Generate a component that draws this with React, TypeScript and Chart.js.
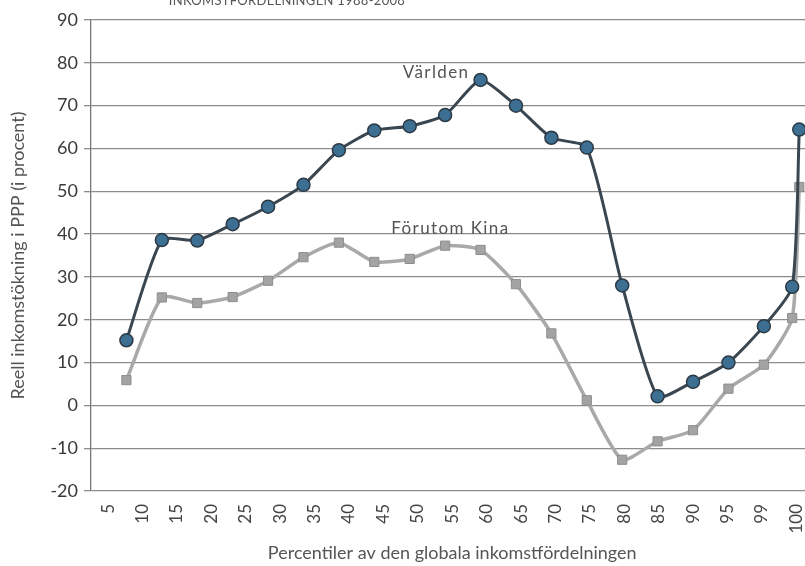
import React, { useEffect, useRef } from "react";
import { Chart, registerables } from "chart.js";

Chart.register(...registerables);

// Percentile positions of the plotted points
const percentiles = [5, 10, 15, 20, 25, 30, 35, 40, 45, 50, 55, 60, 65, 70, 75, 80, 85, 90, 95, 99, 100];

// Category tick labels on the x axis
const tickLabels = ["5", "10", "15", "20", "25", "30", "35", "40", "45", "50", "55", "60", "65", "70", "75", "80", "85", "90", "95", "99", "100"];

// Real income growth (%) 1988-2008
const worldValues = [15.2, 38.6, 38.5, 42.3, 46.4, 51.5, 59.6, 64.2, 65.2, 67.8, 76, 70, 62.5, 60.2, 28, 2.1, 5.5, 10, 18.5, 27.7, 64.4];
const exChinaValues = [5.9, 25.2, 23.9, 25.3, 29.1, 34.6, 38, 33.5, 34.2, 37.3, 36.3, 28.3, 16.8, 1.2, -12.7, -8.4, -5.8, 3.9, 9.5, 20.4, 51];

const seriesNames = ["Världen", "Förutom Kina"];
const yTitle = "Reell inkomstökning i PPP (i procent)";
const xTitle = "Percentiler av den globala inkomstfördelningen";
const caption = "INKOMSTFÖRDELNINGEN 1988-2008";

// Series labels placed in data coordinates (percentile, value)
const noteX = [44, 42.4];
const noteY = [76.5, 40];

const FONT = "Lato, 'Open Sans', sans-serif";

export default function App() {
  const ref = useRef<HTMLCanvasElement | null>(null);

  useEffect(() => {
    if (!ref.current) return;
    const overlay = {
      id: "overlay",
      afterDatasetsDraw(chart: any) {
        const { ctx } = chart;
        const xs = chart.scales.xv;
        const ys = chart.scales.y;
        ctx.save();
        ctx.fillStyle = "#555";
        ctx.font = `17px ${FONT}`;
        (ctx as any).letterSpacing = "1.4px";
        ctx.textAlign = "left";
        ctx.textBaseline = "alphabetic";
        seriesNames.forEach((name, i) => {
          ctx.fillText(name, xs.getPixelForValue(noteX[i]), ys.getPixelForValue(noteY[i]));
        });
        ctx.font = `13px ${FONT}`;
        (ctx as any).letterSpacing = "0.3px";
        ctx.textAlign = "center";
        ctx.fillText(caption, 287, 5);
        ctx.restore();
      },
    };

    const chart = new Chart(ref.current, {
      type: "line",
      data: {
        labels: tickLabels,
        datasets: [
          {
            label: seriesNames[0],
            data: percentiles.map((p, i) => ({ x: p, y: worldValues[i] })),
            xAxisID: "xv",
            yAxisID: "y",
            borderColor: "#3a4650",
            borderWidth: 3,
            backgroundColor: "#3d6f93",
            pointBackgroundColor: "#3d6f93",
            pointBorderColor: "#2c3a45",
            pointBorderWidth: 1.5,
            pointRadius: 6.5,
            pointStyle: "circle",
            tension: 0.2,
            fill: false,
          },
          {
            label: seriesNames[1],
            data: percentiles.map((p, i) => ({ x: p, y: exChinaValues[i] })),
            xAxisID: "xv",
            yAxisID: "y",
            borderColor: "#a9a9a9",
            borderWidth: 3.5,
            backgroundColor: "#a0a0a0",
            pointBackgroundColor: "#a3a3a3",
            pointBorderColor: "#8e8e8e",
            pointBorderWidth: 1,
            pointRadius: 6.5,
            pointStyle: "rect",
            tension: 0.2,
            fill: false,
          },
        ],
      },
      options: {
        responsive: false,
        animation: false,
        devicePixelRatio: 1,
        layout: { padding: { top: 20, right: 15.5, left: 0, bottom: 0 } },
        plugins: {
          legend: { display: false },
          tooltip: { enabled: false },
          title: { display: false },
        },
        scales: {
          x: {
            type: "category",
            position: "bottom",
            offset: true,
            grid: { display: false, drawTicks: false, tickLength: 0 },
            border: { display: false },
            ticks: {
              minRotation: 90,
              maxRotation: 90,
              autoSkip: false,
              padding: 13,
              color: "#444",
              font: { family: FONT, size: 17 },
            },
            title: {
              display: true,
              text: xTitle,
              color: "#555",
              font: { family: FONT, size: 18 },
              padding: { top: 0, bottom: 2 },
            },
            afterFit(scale: any) {
              scale.height = 75;
            },
          },
          xv: {
            type: "linear",
            position: "bottom",
            display: false,
            min: 0,
            max: 102,
          },
          y: {
            type: "linear",
            position: "left",
            min: -20,
            max: 90,
            ticks: {
              stepSize: 10,
              padding: 6,
              color: "#3a3a3a",
              font: { family: FONT, size: 18 },
            },
            grid: {
              color: "#8c8c8c",
              lineWidth: 1.3,
              drawTicks: true,
              tickLength: 7,
            },
            border: { display: true, color: "#777", width: 1.3 },
            title: {
              display: true,
              text: yTitle,
              color: "#555",
              font: { family: FONT, size: 18 },
              padding: { top: 7, bottom: 0 },
            },
            afterFit(scale: any) {
              scale.width = 91;
            },
          },
        },
      },
      plugins: [overlay],
    });
    return () => chart.destroy();
  }, []);

  return (
    <div
      style={{
        position: "fixed",
        left: 0,
        top: 0,
        width: 805,
        height: 566,
        overflow: "hidden",
        background: "#fff",
      }}
    >
      <canvas ref={ref} width={830} height={566} style={{ display: "block" }} />
    </div>
  );
}
